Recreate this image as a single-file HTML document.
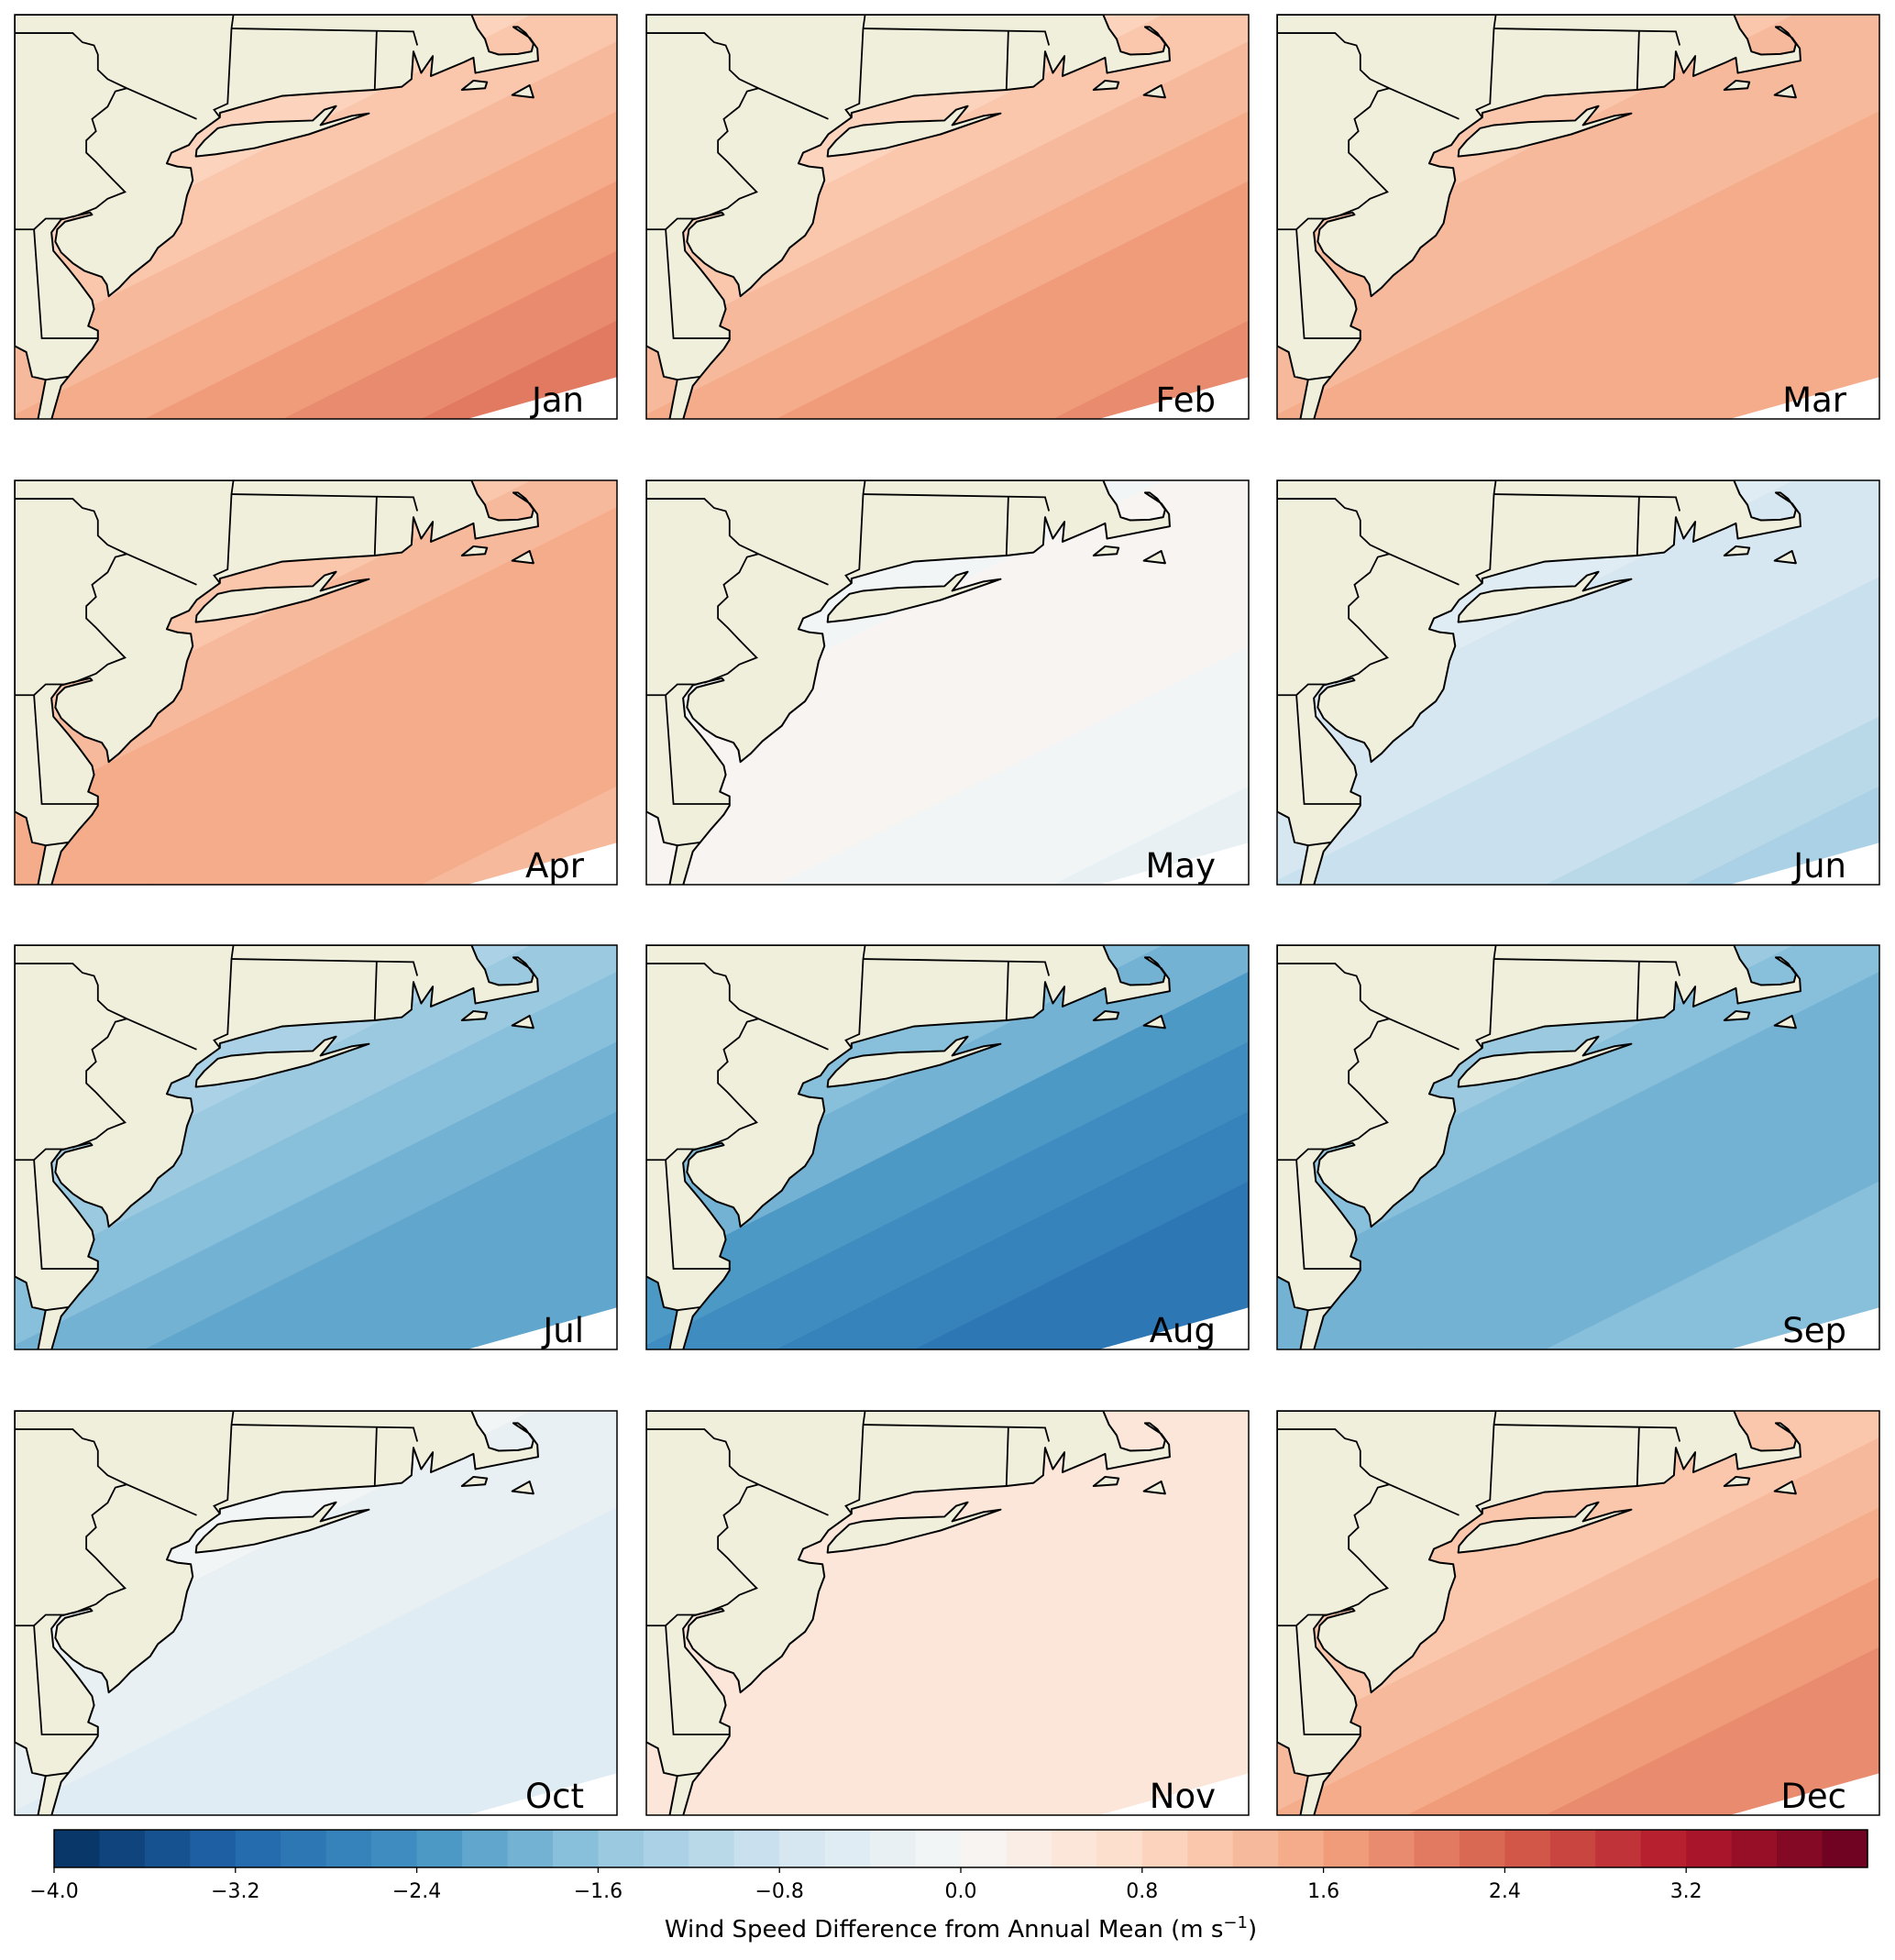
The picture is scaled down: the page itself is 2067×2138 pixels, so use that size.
<!DOCTYPE html>
<html><head><meta charset="utf-8">
<style>
html,body{margin:0;padding:0;background:#fff;width:2067px;height:2138px;overflow:hidden;}
svg{display:block;font-family:"DejaVu Sans","Liberation Sans",sans-serif;}
</style></head>
<body>
<svg id="fig" xmlns="http://www.w3.org/2000/svg" width="2067" height="2138" viewBox="0 0 2067 2138"></svg>
<script>
// ---- data ----
const months = ["Jan","Feb","Mar","Apr","May","Jun","Jul","Aug","Sep","Oct","Nov","Dec"];
// wind speed difference (m/s) sampled from coast outward (NW -> SE)
const valJan = [0.9,1.1,1.3,1.5,1.7,1.9,2.1,2.3];
const valFeb = [0.8,1.0,1.2,1.4,1.6,1.7,1.9,2.1];
const valMar = [1.1,1.2,1.3,1.4,1.4,1.5,1.5,1.5];
const valApr = [1.0,1.2,1.4,1.5,1.4,1.4,1.3,1.3];
const valMay = [-0.2,0.1,0.1,0.0,-0.1,-0.2,-0.3,-0.4];
const valJun = [-0.6,-0.8,-0.8,-0.9,-1.0,-1.2,-1.4,-1.5];
const valJul = [-1.3,-1.6,-1.8,-2.0,-2.1,-2.2,-2.2,-2.2];
const valAug = [-1.7,-2.0,-2.3,-2.5,-2.7,-2.9,-3.0,-3.1];
const valSep = [-1.5,-1.7,-1.9,-1.9,-1.9,-1.8,-1.7,-1.6];
const valOct = [-0.2,-0.3,-0.4,-0.5,-0.5,-0.6,-0.6,-0.6];
const valNov = [0.4,0.5,0.5,0.5,0.4,0.4,0.5,0.5];
const valDec = [1.0,1.1,1.2,1.4,1.6,1.8,1.8,1.8];
const monthValues = [valJan,valFeb,valMar,valApr,valMay,valJun,valJul,valAug,valSep,valOct,valNov,valDec];
const tickValues = [-4.0,-3.2,-2.4,-1.6,-0.8,0.0,0.8,1.6,2.4,3.2];
const tickLabels = ["\u22124.0","\u22123.2","\u22122.4","\u22121.6","\u22120.8","0.0","0.8","1.6","2.4","3.2"];

// ---- helpers ----
const NS = "http://www.w3.org/2000/svg";
const svg = document.getElementById("fig");
function mk(tag, attrs, parent){const e=document.createElementNS(NS,tag);for(const k in attrs)e.setAttribute(k,attrs[k]);(parent||svg).appendChild(e);return e;}
const stops = ["#053061","#2166ac","#4393c3","#92c5de","#d1e5f0","#f7f7f7","#fddbc7","#f4a582","#d6604d","#b2182b","#67001f"];
function hex(c){return [parseInt(c.slice(1,3),16),parseInt(c.slice(3,5),16),parseInt(c.slice(5,7),16)];}
function cmap(t){
  const p=Math.max(0,Math.min(1,t))*(stops.length-1);const i=Math.min(stops.length-2,Math.floor(p));const f=p-i;
  const a=hex(stops[i]),b=hex(stops[i+1]);
  return "rgb("+a.map((v,k)=>Math.round(v+(b[k]-v)*f)).join(",")+")";
}
const vmin=-4, vmax=4, nLev=40;
function levelColor(v){let b=Math.floor((v-vmin)/(vmax-vmin)*nLev);b=Math.max(0,Math.min(nLev-1,b));return cmap((b+0.5)/nLev);}

const colX=[16,705,1393], rowY=[16,524,1031,1539], PW=657, PH=441;
const nx=0.45, ny=0.893, tx=0.893, ty=-0.45;
function dScale(i){return 220+i*68;}
function pt(d,s){return (d*nx+s*tx).toFixed(1)+","+(d*ny+s*ty).toFixed(1);}

// geography in reference-crop units (scaled to panel px by group transform)
const landPts="0,0 1180,0 1195,45 1215,80 1225,120 1250,130 1300,128 1335,120 1340,95 1320,60 1300,40 1288,40 1300,50 1330,75 1350,110 1352,150 1190,190 1185,140 1160,155 1075,200 1080,135 1050,190 1030,120 1025,210 1000,235 930,245 800,255 690,265 600,295 530,320 530,335 470,390 450,425 405,450 393,485 420,495 455,500 460,540 445,590 430,680 410,720 370,760 350,800 300,850 270,890 243,918 238,880 225,855 180,835 150,810 120,775 105,740 110,700 130,675 160,665 200,652 195,645 150,658 120,668 95,710 100,770 140,830 165,870 200,930 205,960 190,1015 215,1030 215,1060 200,1090 165,1140 120,1210 95,1320 60,1320 80,1190 45,1180 30,1100 0,1080";
const liPts="468,462 520,455 620,435 760,390 915,322 870,330 790,360 830,298 800,310 770,345 650,350 560,360 525,370 490,410 470,440";
const mvPts="1155,245 1185,215 1220,220 1215,240";
const nanPts="1285,262 1330,230 1340,270";
const borders=[
 "0,60 150,60 175,90 205,100 215,130 215,180 240,210 290,240 470,340",
 "290,240 260,250 240,300 200,340 210,380 185,410 185,450 210,480 240,520 285,578 240,600 210,630 150,660",
 "0,700 50,700 70,1055 215,1055",
 "50,700 80,665 130,665",
 "565,0 560,45 550,290 515,310 530,335",
 "560,45 1030,55 1040,100",
 "935,55 930,245",
 "80,1190 140,1180"
];

mk("rect",{x:0,y:0,width:2067,height:2138,fill:"#fff"});
const defs=mk("defs",{});
const cp=mk("clipPath",{id:"pclip"},defs);
mk("rect",{x:0,y:0,width:PW,height:PH},cp);

months.forEach((m,mi)=>{
  const gx=colX[mi%3], gy=rowY[Math.floor(mi/3)];
  const g=mk("g",{transform:`translate(${gx},${gy})`});
  
  
  const inner=mk("g",{"clip-path":"url(#pclip)"},g);
  const vals=monthValues[mi];
  vals.forEach((v,i)=>{
    const d0=i===0?-2000:(dScale(i-1)+dScale(i))/2;
    const d1=i===vals.length-1?3000:(dScale(i)+dScale(i+1))/2;
    const c=levelColor(v);
    const band=mk("polygon",{points:[pt(d0,-3000),pt(d0,3000),pt(d1,3000),pt(d1,-3000)].join(" "),fill:c,stroke:c,"stroke-width":1},inner);
    
    
  });
  const tri=mk("polygon",{points:"490,442 658,395 658,442",fill:"#fff"},inner);
  
  
  const geo=mk("g",{transform:"scale(0.4223,0.3346)"},inner);
  const st={fill:"#f0efdc",stroke:"#000","stroke-width":2,"vector-effect":"non-scaling-stroke","stroke-linejoin":"round"};
  const land=mk("polygon",Object.assign({points:landPts},st),geo);
  
  
  const li=mk("polygon",Object.assign({points:liPts},st),geo);
  
  
  mk("polygon",Object.assign({points:mvPts},st),geo);
  mk("polygon",Object.assign({points:nanPts},st),geo);
  borders.forEach(b=>{
    const l=mk("polyline",{points:b,fill:"none",stroke:"#000","stroke-width":1.8,"vector-effect":"non-scaling-stroke"},geo);
    
    
  });
  const fr=mk("rect",{x:0,y:0,width:PW,height:PH,fill:"none",stroke:"#000","stroke-width":1.5},g);
  
  
  const t=mk("text",{x:621,y:433,"text-anchor":"end","font-size":37,fill:"#000"},g);
  t.textContent=m;
  
  
});

// colorbar
const cbX0=59, cbX1=2037, cbY=1996, cbH=41;
function cbx(v){return cbX0+(v-vmin)/(vmax-vmin)*(cbX1-cbX0);}
const cb=mk("g",{});


for(let i=0;i<nLev;i++){
  const v0=vmin+i*(vmax-vmin)/nLev, v1=v0+(vmax-vmin)/nLev;
  const c=cmap((i+0.5)/nLev);
  const r=mk("rect",{x:cbx(v0),y:cbY,width:cbx(v1)-cbx(v0)+0.6,height:cbH,fill:c},cb);
  
  
}
mk("rect",{x:cbX0,y:cbY,width:cbX1-cbX0,height:cbH,fill:"none",stroke:"#000","stroke-width":1.5},cb);
tickValues.forEach((v,i)=>{
  mk("line",{x1:cbx(v),x2:cbx(v),y1:cbY+cbH,y2:cbY+cbH+6,stroke:"#000","stroke-width":1.3},cb);
  const t=mk("text",{x:cbx(v),y:2070,"text-anchor":"middle","font-size":22,fill:"#000"},cb);
  t.textContent=tickLabels[i];
  
  
});
const ttl=mk("text",{x:1048,y:2113,"text-anchor":"middle","font-size":26,fill:"#000"});


ttl.appendChild(document.createTextNode("Wind Speed Difference from Annual Mean (m s"));
const sup=mk("tspan",{dy:-10,"font-size":18},ttl); sup.textContent="\u22121";
const cl=mk("tspan",{dy:10},ttl); cl.textContent=")";
</script>
</body></html>
